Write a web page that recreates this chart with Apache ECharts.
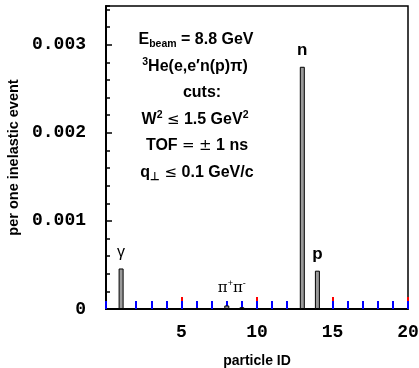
<!DOCTYPE html>
<html>
<head>
<meta charset="utf-8">
<script src="https://cdn.jsdelivr.net/npm/echarts@6/dist/echarts.min.js"></script>
<style>html,body{margin:0;padding:0;background:#fff}#c{width:419px;height:368px}</style>
</head>
<body>
<div id="c"></div>
<script>
// ---- data ----
const particleIds = [1, 6, 8, 9, 13, 14];
const yieldValues = [0.00046, 0.00001, 0.00004, 0.00002, 0.00275, 0.000435];
const barTags = ['γ', '', 'pipi', '', 'n', 'p'];
const xTicks = [0, 5, 10, 15, 20];
const yTicks = [0, 0.001, 0.002, 0.003];
const yMax = 0.00344;

const tagStyles = {
  'γ': { fontFamily: 'Liberation Sans', fontSize: 16, fontWeight: 'normal' },
  'n': { fontFamily: 'Liberation Sans', fontSize: 17, fontWeight: 'bold' },
  'p': { fontFamily: 'Liberation Sans', fontSize: 17, fontWeight: 'bold' },
  'pipi': { fontFamily: 'Liberation Sans', fontSize: 16, fontWeight: 'normal' }
};

const data = particleIds.map((id, i) => {
  const tag = barTags[i];
  const item = { value: [id, yieldValues[i]] };
  if (tag) {
    const st = tagStyles[tag];
    item.label = {
      show: true, position: 'top', distance: 8, color: '#000',
      fontFamily: st.fontFamily, fontSize: st.fontSize, fontWeight: st.fontWeight,
      formatter: tag === 'pipi' ? '{a|π}{s|+}{a|π}{s|-}' : tag,
      offset: tag === 'pipi' ? [5, 0] : [0, 0],
      rich: {
        a: { fontFamily: 'DejaVu Serif', fontSize: 15, lineHeight: 18, color: '#000' },
        s: { fontFamily: 'Liberation Sans', fontSize: 9, lineHeight: 9, verticalAlign: 'top', color: '#000' }
      }
    };
  }
  return item;
});

const monoFont = 'Liberation Mono';
const txtFont = 'Liberation Sans';

const rich = {
  m: { fontFamily: txtFont, fontWeight: 'bold', fontSize: 16, lineHeight: 20, color: '#000' },
  y: { fontFamily: 'DejaVu Sans', fontWeight: 'normal', fontSize: 15, lineHeight: 20, color: '#000' },
  sub: { fontFamily: txtFont, fontWeight: 'bold', fontSize: 10.5, lineHeight: 9, verticalAlign: 'bottom', color: '#000' },
  sup: { fontFamily: txtFont, fontWeight: 'bold', fontSize: 10.5, lineHeight: 10, verticalAlign: 'top', color: '#000' }
};
const annLines = [
  '{m|E}{sub|beam}{m| = 8.8 GeV}',
  '{sup|3}{m|He(e,e′n(p)π)}',
  '{m|cuts:}',
  '{m|W}{sup|2}{m| }{y|≤}{m| 1.5 GeV}{sup|2}',
  '{m|TOF }{y|=}{m| }{y|±}{m| 1 ns}',
  '{m|q}{sub|⊥}{m| }{y|≤}{m| 0.1 GeV/c}'
];
const annY = [40, 67, 93, 120, 146, 173];
const annX = [196, 195, 202, 195, 197, 197];

const chart = echarts.init(document.getElementById('c'));
chart.setOption({
  animation: false,
  backgroundColor: '#fff',
  grid: { left: 106, right: 11, top: 6, bottom: 59, show: true, borderColor: '#000', borderWidth: 1.5,
    containLabel: false, outerBoundsMode: 'none' },
  xAxis: [{
    type: 'value', min: 0, max: 20, interval: 5, position: 'bottom',
    name: 'particle ID', nameLocation: 'middle', nameGap: 45,
    nameTextStyle: { fontFamily: txtFont, fontWeight: 'bold', fontSize: 14, color: '#000' },
    axisLine: { show: true, onZero: false, lineStyle: { color: '#000', width: 2 } },
    axisTick: { show: true, inside: true, length: 12, lineStyle: { color: 'red', width: 2 } },
    splitLine: { show: false },
    axisLabel: { margin: 14, fontFamily: monoFont, fontWeight: 'bold', fontSize: 18, color: '#000',
      showMinLabel: false, formatter: v => xTicks.includes(v) ? String(v) : '' }
  }, {
    type: 'value', min: 0, max: 20, interval: 1, position: 'bottom', offset: 0,
    axisLine: { show: false, onZero: false },
    axisTick: { show: true, inside: true, length: 8, lineStyle: { color: 'blue', width: 2 } },
    splitLine: { show: false },
    axisLabel: { show: false }
  }],
  yAxis: [{
    type: 'value', min: 0, max: yMax, interval: 0.001, position: 'left',
    name: 'per one inelastic event', nameLocation: 'middle', nameGap: 83, nameRotate: 90,
    nameTextStyle: { fontFamily: txtFont, fontWeight: 'bold', fontSize: 14.5, color: '#000' },
    axisLine: { show: true, onZero: false, lineStyle: { color: '#000', width: 2 } },
    axisTick: { show: true, inside: true, length: 6, lineStyle: { color: '#000', width: 1.5 } },
    splitLine: { show: false },
    axisLabel: { margin: 20, fontFamily: monoFont, fontWeight: 'bold', fontSize: 18, color: '#000',
      showMaxLabel: false,
      formatter: v => { const t = yTicks.find(k => Math.abs(k - v) < 1e-9); return t === undefined ? '' : (t === 0 ? '0' : t.toFixed(3)); } }
  }, {
    type: 'value', min: 0, max: yMax, interval: 0.0002, position: 'left', offset: 0,
    axisLine: { show: false, onZero: false },
    axisTick: { show: true, inside: true, length: 4, lineStyle: { color: '#000', width: 1.5 } },
    splitLine: { show: false },
    axisLabel: { show: false }
  }],
  series: [{
    type: 'bar', xAxisIndex: 0, yAxisIndex: 0, barWidth: 5,
    itemStyle: { color: '#9a9a9a', borderColor: '#000', borderWidth: 1 },
    data: data
  }],
  graphic: annLines.map((t, i) => ({
    type: 'text', x: annX[i], y: annY[i], z: 100,
    style: { text: t, rich: rich, align: 'center', verticalAlign: 'middle', fill: '#000' }
  }))
});
</script>
</body>
</html>
